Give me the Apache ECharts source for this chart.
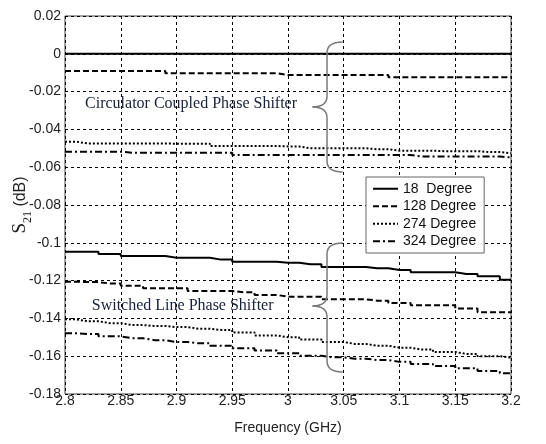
<!DOCTYPE html>
<html>
<head>
<meta charset="utf-8">
<script src="https://cdn.jsdelivr.net/npm/echarts@6/dist/echarts.min.js"></script>
<style>
html,body{margin:0;padding:0;background:#fff;}
#chart{width:546px;height:444px;}
</style>
</head>
<body>
<div id="chart"></div>
<script>
// Frequency samples (GHz)
var freq = [2.80,2.82,2.84,2.86,2.88,2.90,2.92,2.94,2.96,2.98,3.00,3.02,3.04,3.06,3.08,3.10,3.12,3.14,3.16,3.18,3.20];
var legendNames = ['18  Degree','128 Degree','274 Degree','324 Degree'];
var xTicks = [2.8,2.85,2.9,2.95,3,3.05,3.1,3.15,3.2];
var yTicks = [0.02,0,-0.02,-0.04,-0.06,-0.08,-0.1,-0.12,-0.14,-0.16,-0.18];

// Circulator coupled phase shifter
var cc18  = [0,0,0,0,0,0,0,0,0,0,0,0,0,0,0,0,0,0,0,0,0];
var cc128 = [-0.0091,-0.0091,-0.0091,-0.0091,-0.0091,-0.0103,-0.0103,-0.0103,-0.0103,-0.0103,-0.0112,-0.0112,-0.0112,-0.0112,-0.0112,-0.0124,-0.0124,-0.0124,-0.0124,-0.0124,-0.0124];
var cc274 = [-0.0465,-0.0474,-0.0474,-0.0474,-0.0474,-0.0476,-0.0476,-0.0488,-0.0488,-0.0488,-0.0490,-0.0500,-0.0500,-0.0500,-0.0505,-0.0513,-0.0513,-0.0515,-0.0515,-0.0520,-0.0526];
var cc324 = [-0.0518,-0.0518,-0.0518,-0.0523,-0.0523,-0.0523,-0.0523,-0.0523,-0.0535,-0.0535,-0.0535,-0.0535,-0.0535,-0.0535,-0.0535,-0.0535,-0.0544,-0.0544,-0.0544,-0.0544,-0.0548];
// Switched line phase shifter
var sl18  = [-0.1047,-0.1047,-0.1059,-0.1070,-0.1070,-0.1079,-0.1079,-0.1089,-0.1100,-0.1100,-0.1105,-0.1114,-0.1128,-0.1128,-0.1135,-0.1144,-0.1156,-0.1156,-0.1165,-0.1177,-0.1195];
var sl128 = [-0.1206,-0.1208,-0.1215,-0.1227,-0.1241,-0.1241,-0.1255,-0.1255,-0.1262,-0.1276,-0.1285,-0.1285,-0.1299,-0.1299,-0.1306,-0.1318,-0.1331,-0.1331,-0.1347,-0.1368,-0.1368];
var sl274 = [-0.1405,-0.1415,-0.1425,-0.1435,-0.1440,-0.1446,-0.1455,-0.1461,-0.1475,-0.1490,-0.1500,-0.1512,-0.1525,-0.1535,-0.1545,-0.1555,-0.1565,-0.1578,-0.1588,-0.1600,-0.1608];
var sl324 = [-0.1479,-0.1483,-0.1495,-0.1505,-0.1515,-0.1525,-0.1532,-0.1545,-0.1558,-0.1570,-0.1585,-0.1598,-0.1606,-0.1613,-0.1620,-0.1630,-0.1641,-0.1652,-0.1664,-0.1678,-0.1690];

var styles = ['solid',[6,3],[2,2],[7,3,2,3]];
function pairs(vals){ return freq.map(function(f,i){return [f, vals[i]];}); }
function mk(name, vals, t){
  return {name:name, type:'line', data:pairs(vals), step:'middle', symbol:'none', symbolSize:0, showSymbol:false,
    lineStyle:{color:'#000', width:2, type:t}, itemStyle:{color:'#000'}, animation:false, z:3};
}
var series = [
  mk(legendNames[0], cc18, styles[0]), mk(legendNames[1], cc128, styles[1]),
  mk(legendNames[2], cc274, styles[2]), mk(legendNames[3], cc324, styles[3]),
  mk(legendNames[0], sl18, styles[0]), mk(legendNames[1], sl128, styles[1]),
  mk(legendNames[2], sl274, styles[2]), mk(legendNames[3], sl324, styles[3])
];
function fmt(v){ return String(parseFloat(Number(v).toFixed(3))); }

var chart = echarts.init(document.getElementById('chart'), null, {renderer:'canvas'});
chart.setOption({
  animation:false,
  backgroundColor:'#fff',
  grid:{left:65, right:35, top:16, bottom:50, show:true, borderColor:'#444', borderWidth:1,
    containLabel:false, outerBoundsMode:'none'},
  legend:{
    data:legendNames, orient:'vertical', left:366, top:177,
    backgroundColor:'#fff', borderColor:'#666', borderWidth:1, borderRadius:0,
    padding:[4,8,4,6], itemWidth:25, itemHeight:12, itemGap:2,
    textStyle:{fontFamily:'Liberation Sans, Arial', fontSize:14, color:'#111', lineHeight:15.5},
    itemStyle:{opacity:0, borderWidth:0},
    lineStyle:{type:'inherit'}, inactiveColor:'#000', selectedMode:false, z:10
  },
  xAxis:{type:'value', min:2.8, max:3.2, interval:0.05,
    name:'Frequency (GHz)', nameLocation:'middle', nameGap:27,
    nameTextStyle:{fontFamily:'Liberation Sans, Arial', fontSize:14, color:'#222'},
    axisLine:{show:false}, axisTick:{show:false},
    axisLabel:{formatter:fmt, fontFamily:'Liberation Sans, Arial', fontSize:14, color:'#222', margin:0},
    splitLine:{show:true, lineStyle:{color:'#000', width:1, type:[3,3]}}
  },
  yAxis:{type:'value', min:-0.18, max:0.02, interval:0.02,
    name:'{s|S}{b|21}{c| (dB)}', nameLocation:'middle', nameGap:35, nameRotate:90, nameMoveOverlap:false,
    nameTextStyle:{rich:{
      s:{fontFamily:'Liberation Serif, Times New Roman', fontSize:19, color:'#222'},
      b:{fontFamily:'Liberation Serif, Times New Roman', fontSize:12, color:'#222', verticalAlign:'bottom', padding:[0,0,-4,0]},
      c:{fontFamily:'Liberation Sans, Arial', fontSize:16, color:'#222'}
    }},
    axisLine:{show:false}, axisTick:{show:false},
    axisLabel:{formatter:fmt, fontFamily:'Liberation Sans, Arial', fontSize:14, color:'#222', margin:4},
    splitLine:{show:true, lineStyle:{color:'#000', width:1, type:[3,3]}}
  },
  series:series
});

// Braces and annotation text positioned in data coordinates
function px(f,v){ return chart.convertToPixel({gridIndex:0},[f,v]); }
function brace(top, mid, bot){
  var xb = px(3.035,0)[0], xt = px(3.022,0)[0], xe = px(3.049,0)[0];
  var yt = px(2.8,top)[1], ym = px(2.8,mid)[1], yb = px(2.8,bot)[1];
  var r = 11, st = {stroke:'#7a7a7a', lineWidth:1.5, fill:null};
  return [
    {type:'bezierCurve', shape:{x1:xe,y1:yt,x2:xb,y2:yt+r,cpx1:xb,cpy1:yt}, style:st, z:5},
    {type:'line', shape:{x1:xb,y1:yt+r,x2:xb,y2:ym-r}, style:st, z:5},
    {type:'bezierCurve', shape:{x1:xb,y1:ym-r,x2:xt,y2:ym,cpx1:xb,cpy1:ym}, style:st, z:5},
    {type:'bezierCurve', shape:{x1:xt,y1:ym,x2:xb,y2:ym+r,cpx1:xb,cpy1:ym}, style:st, z:5},
    {type:'line', shape:{x1:xb,y1:ym+r,x2:xb,y2:yb-r}, style:st, z:5},
    {type:'bezierCurve', shape:{x1:xb,y1:yb-r,x2:xe,y2:yb,cpx1:xb,cpy1:yb}, style:st, z:5}
  ];
}
function label(text, f, v){
  var p = px(f,v);
  return {type:'text', x:p[0], y:p[1], z:6, style:{text:text, fill:'#17203d',
    font:'16px "Liberation Serif", "Times New Roman", serif', textAlign:'left', textVerticalAlign:'middle'}};
}
var g = [].concat(
  brace(0.0062, -0.0281, -0.0625),
  brace(-0.1001, -0.1334, -0.1683),
  [label('Circulator Coupled Phase Shifter', 2.818, -0.0265),
   label('Switched Line Phase Shifter', 2.824, -0.1335)]
);
chart.setOption({graphic:g});
</script>
</body>
</html>
